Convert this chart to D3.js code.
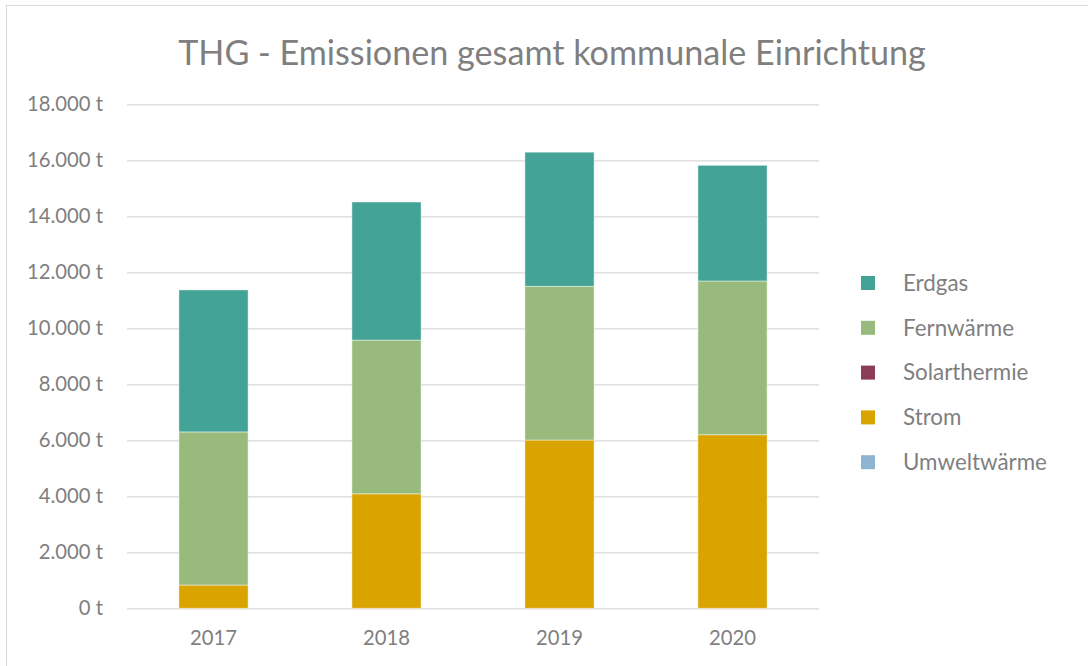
<!DOCTYPE html>
<html>
<head>
<meta charset="utf-8">
<script src="https://cdn.jsdelivr.net/npm/d3@7"></script>
<style>
  html, body { margin: 0; padding: 0; background: #fff; }
  svg { display: block; font-family: Lato, "Open Sans", sans-serif; }
</style>
</head>
<body>
<svg id="chart" width="1088" height="666"></svg>
<script>
const categories = ["2017", "2018", "2019", "2020"];
const seriesNames = ["Erdgas", "Fernwärme", "Solarthermie", "Strom", "Umweltwärme"];
const erdgas = [5070, 4930, 4790, 4130];
const fernwaerme = [5470, 5490, 5490, 5490];
const solarthermie = [0, 0, 0, 0];
const strom = [830, 4090, 6010, 6200];
const umweltwaerme = [0, 0, 0, 0];
const yTicks = [0, 2000, 4000, 6000, 8000, 10000, 12000, 14000, 16000, 18000];
const title = "THG - Emissionen gesamt kommunale Einrichtung";

const colors = {
  "Erdgas": "#43a396",
  "Fernwärme": "#98bb7d",
  "Solarthermie": "#8b3d55",
  "Strom": "#d9a300",
  "Umweltwärme": "#8db4d1"
};
const valuesBySeries = {
  "Erdgas": erdgas,
  "Fernwärme": fernwaerme,
  "Solarthermie": solarthermie,
  "Strom": strom,
  "Umweltwärme": umweltwaerme
};

const table = categories.map((c, i) => {
  const row = { cat: c };
  seriesNames.forEach(s => row[s] = valuesBySeries[s][i]);
  return row;
});
const stackOrder = ["Umweltwärme", "Strom", "Solarthermie", "Fernwärme", "Erdgas"];
const stacked = d3.stack().keys(stackOrder)(table);

const svg = d3.select("#chart");
const textColor = "#7f7f7f";

// chart border
svg.append("rect")
  .attr("x", 6.5).attr("y", 5.5)
  .attr("width", 1100).attr("height", 700)
  .attr("fill", "#fff").attr("stroke", "#d9d9d9").attr("stroke-width", 1);

const x = d3.scaleBand().domain(categories).range([127, 819]).paddingInner(0.6).paddingOuter(0.3);
const y = d3.scaleLinear().domain([0, 18000]).range([608.3, 104.3]);

const de = d3.formatLocale({ decimal: ",", thousands: ".", grouping: [3], currency: ["", " €"] });
const fmt = v => de.format(",.0f")(v) + " t";

function fit(sel, target) {
  sel.each(function() {
    const w = this.getComputedTextLength();
    const fs = parseFloat(this.getAttribute("font-size"));
    if (w > 0) this.setAttribute("font-size", (fs * target / w).toFixed(2));
  });
}

// gridlines + y labels via axis
const yAxis = d3.axisLeft(y).tickValues(yTicks).tickFormat(fmt).tickSize(-(819 - 127)).tickPadding(24);
const gy = svg.append("g").attr("transform", "translate(127,0)").call(yAxis);
gy.select(".domain").remove();
gy.selectAll(".tick line").attr("stroke", "#d9d9d9").attr("stroke-width", 1.3);
gy.selectAll(".tick text").attr("fill", textColor).attr("font-size", 17).attr("font-family", "Lato");
fit(gy.selectAll(".tick").filter(d => d === 18000).select("text"), 76);
const yfs = gy.selectAll(".tick").filter(d => d === 18000).select("text").attr("font-size");
gy.selectAll(".tick text").attr("font-size", yfs);

// bars
svg.append("g").selectAll("g").data(stacked).join("g")
  .attr("fill", d => colors[d.key])
  .selectAll("rect").data(d => d).join("rect")
  .attr("x", d => x(d.data.cat))
  .attr("width", x.bandwidth())
  .attr("y", d => y(d[1]))
  .attr("height", d => y(d[0]) - y(d[1]))
  .attr("stroke", "#ffffff").attr("stroke-opacity", 0.45).attr("stroke-width", 1);

// x labels
const xAxis = d3.axisBottom(x).tickSize(0).tickPadding(0);
const gx = svg.append("g").attr("transform", "translate(0,638)").call(xAxis);
gx.select(".domain").remove();
gx.selectAll(".tick text").attr("fill", textColor).attr("font-size", yfs).attr("font-family", "Lato")
  .attr("dy", "0.35em").attr("y", 0);

// title
const t = svg.append("text")
  .attr("x", (178 + 926) / 2).attr("y", 51)
  .attr("text-anchor", "middle").attr("dominant-baseline", "central")
  .attr("fill", textColor).attr("font-size", 30).attr("font-family", "Lato")
  .text(title);
fit(t, 748);

// legend
const legendItems = ["Erdgas", "Fernwärme", "Solarthermie", "Strom", "Umweltwärme"];
const lg = svg.append("g");
const item = lg.selectAll("g").data(legendItems).join("g")
  .attr("transform", (d, i) => `translate(861, ${283 + i * 44.8})`);
item.append("rect").attr("x", 0).attr("y", -7).attr("width", 14).attr("height", 14)
  .attr("fill", d => colors[d]);
const lt = item.append("text").attr("x", 42).attr("y", 0).attr("dy", "0.35em")
  .attr("fill", textColor).attr("font-size", 18).attr("font-family", "Lato")
  .text(d => d);
fit(lt.filter(d => d === "Umweltwärme"), 144);
const lfs = lt.filter(d => d === "Umweltwärme").attr("font-size");
lt.attr("font-size", lfs);
</script>
</body>
</html>
